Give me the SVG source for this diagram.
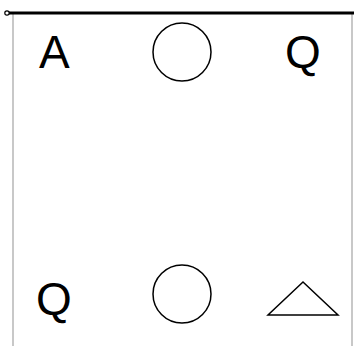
<svg xmlns="http://www.w3.org/2000/svg" width="354" height="346" viewBox="0 0 354 346">
<style>
.t{font-family:"Liberation Sans",Arial,sans-serif;font-size:46px;fill:#000}
.s{fill:#fff;stroke:#000;stroke-width:1.5}
.g{stroke:#c8c8c8;stroke-width:2;fill:none}
</style>
<rect width="354" height="346" fill="#fff"/>
<g id="frame">
<line class="g" x1="13" y1="14" x2="13" y2="346"/>
<line class="g" x1="352" y1="14" x2="352" y2="346"/>
<line x1="7" y1="13" x2="354" y2="13" stroke="#000" stroke-width="3"/>
<circle cx="7" cy="13" r="2.2" fill="#fff" stroke="#000" stroke-width="1.2"/>
</g>
<g id="connectors"></g>
<g id="A"><text class="t" x="39" y="68">A</text></g>
<g id="circle1"><circle class="s" cx="182" cy="52" r="29"/></g>
<g id="Q1"><text class="t" x="285" y="68">Q</text></g>
<g id="Q2"><text class="t" x="36" y="315">Q</text></g>
<g id="circle2"><circle class="s" cx="182" cy="294" r="29"/></g>
<g id="triangle"><polygon class="s" points="303,282 338,315 268,315"/></g>
</svg>
